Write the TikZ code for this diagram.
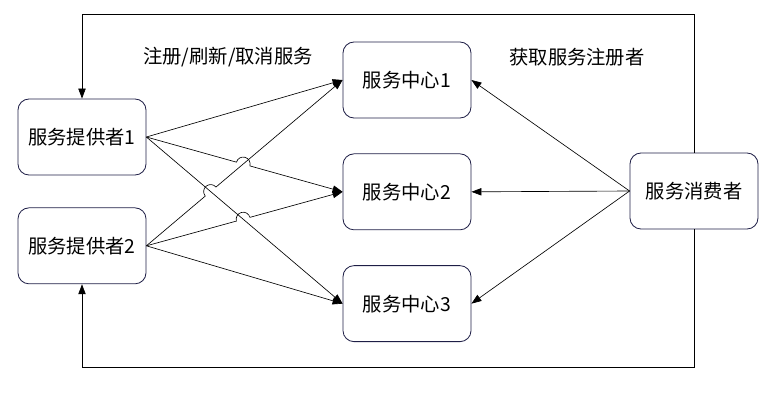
\documentclass[tikz,border=0pt]{standalone}
\usepackage{fontspec}
\setmainfont{Noto Sans CJK SC}
\usetikzlibrary{arrows.meta,calc,positioning}
\definecolor{boxline}{RGB}{30,30,70}

\begin{document}
\begin{tikzpicture}[x=0.03cm,y=0.03cm,>={Triangle[length=0.3cm,width=0.22cm]},
  every node/.style={font=\fontsize{16.5}{19}\selectfont},
  box/.style={draw=boxline, line width=0.7pt, rounded corners=0.33cm,
    minimum width=3.84cm, minimum height=2.28cm, inner sep=0pt},
  link/.style={->, line width=0.55pt}]
  \useasboundingbox (0,0) rectangle (773,-406);

  \node[box] (p1) at (82,-137) {服务提供者1};
  \node[box] (p2) [below=0.96cm of p1] {服务提供者2};
  \node[box] (h1) at (407,-80) {服务中心1};
  \node[box] (h2) [below=1.05cm of h1] {服务中心2};
  \node[box] (h3) [below=1.05cm of h2] {服务中心3};
  \node[box] (cons) at (694,-191) {服务消费者};

  \node (reg) at (228,-57) {注册/刷新/取消服务};
  \node (fetch) at (577,-57) {获取服务注册者};

  % crossings that get a jump
  \coordinate (xab) at (intersection of p1.east--h2.west and p2.east--h1.west);
  \coordinate (xbc) at (intersection of p2.east--h1.west and p1.east--h3.west);
  \coordinate (xcd) at (intersection of p1.east--h3.west and p2.east--h2.west);

  % provider 1
  \draw[link] (p1.east) -- (h1.west);
  \draw[link] let \p1=($(h2.west)-(p1.east)$), \n1={atan2(\y1,\x1)} in
    (p1.east) -- ($(xab)!0.21cm!(p1.east)$)
    arc[start angle=\n1+180, end angle=\n1, radius=0.21cm] -- (h2.west);
  \draw[link] (p1.east) -- (h3.west);

  % provider 2
  \draw[link] let \p1=($(h1.west)-(p2.east)$), \n1={atan2(\y1,\x1)} in
    (p2.east) -- ($(xbc)!0.21cm!(p2.east)$)
    arc[start angle=\n1+180, end angle=\n1, radius=0.21cm] -- (h1.west);
  \draw[link] let \p1=($(h2.west)-(p2.east)$), \n1={atan2(\y1,\x1)} in
    (p2.east) -- ($(xcd)!0.21cm!(p2.east)$)
    arc[start angle=\n1+180, end angle=\n1, radius=0.21cm] -- (h2.west);
  \draw[link] (p2.east) -- (h3.west);

  % consumer
  \draw[link] (cons.west) -- (h1.east);
  \draw[link] (cons.west) -- (h2.east);
  \draw[link] (cons.west) -- (h3.east);

  % frame back to the providers
  \draw[link] (cons.north) -- ++(0,138) -| (p1.north);
  \draw[link] (cons.south) -- ++(0,-138) -| (p2.south);
\end{tikzpicture}
\end{document}
